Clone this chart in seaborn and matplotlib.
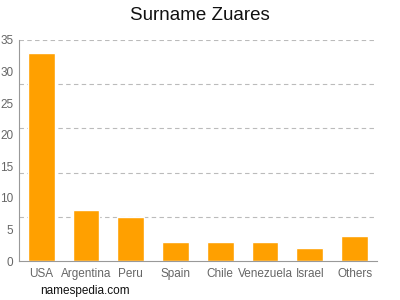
import matplotlib
matplotlib.use("Agg")
import matplotlib.pyplot as plt
import seaborn as sns
import pandas as pd

countries = ["USA", "Argentina", "Peru", "Spain", "Chile", "Venezuela", "Israel", "Others"]
counts = [33, 8, 7, 3, 3, 3, 2, 4]
yticks = [0, 5, 10, 15, 20, 25, 30, 35]
grid_levels = [7, 14, 21, 28, 35]

sns.set_style("white")
plt.rcParams['font.family'] = ['Liberation Sans', 'DejaVu Sans']

df = pd.DataFrame({"country": countries, "count": counts})
fig = plt.figure(figsize=(4, 3), dpi=100)
ax = fig.add_axes([0.047, 0.13, 0.8955, 0.7367])
sns.barplot(data=df, x="country", y="count", color="#FFA000", saturation=1,
            width=0.6, ax=ax)
ax.set_ylim(0, 35)
ax.set_xlim(-0.5, len(countries) - 0.5)
ax.set_yticks(yticks)
for g in grid_levels:
    ax.axhline(g, color="#BBBBBB", linestyle=(0, (4, 3)), linewidth=0.8, zorder=0)
ax.set_xlabel("")
ax.set_ylabel("")
ax.tick_params(axis="both", labelsize=8.5, labelcolor="#666666", length=3, width=0.8, color="#999999")
ax.tick_params(axis="y", pad=1)
ax.tick_params(axis="x", pad=2)
for s in ["top", "right"]:
    ax.spines[s].set_visible(False)
for s in ["left", "bottom"]:
    ax.spines[s].set_color("#999999")
    ax.spines[s].set_linewidth(0.8)
fig.text(0.5, 0.95, "Surname Zuares", ha="center", va="center", fontsize=13.5, color="#111111")
fig.text(0.1, 0.03, "namespedia.com", ha="left", va="center", fontsize=8.5, color="#111111")
fig.savefig("out.png", dpi=100)
